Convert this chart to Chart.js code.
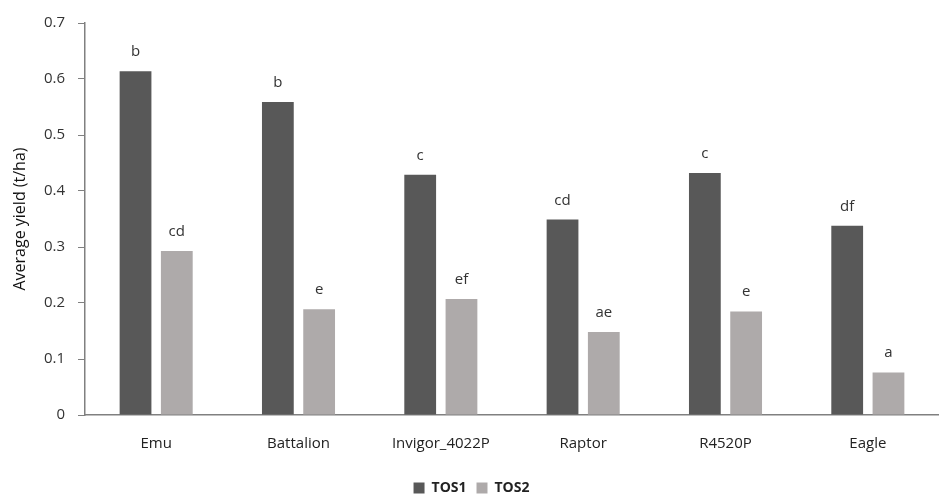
<!DOCTYPE html>
<html lang="en">
<head>
  <meta charset="UTF-8" />
  <title>Average yield by cultivar</title>
  <script src="https://cdn.jsdelivr.net/npm/chart.js"></script>
  <style>
    html, body { margin: 0; padding: 0; background: #fff; overflow: hidden; }
    .chart-container { width: 939px; height: 498px; }
  </style>
</head>
<body>
  <div class="chart-container"><canvas id="yieldChart"></canvas></div>

  <script>
    const cultivars = ['Emu', 'Battalion', 'Invigor_4022P', 'Raptor', 'R4520P', 'Eagle'];
    const tos1 = [0.614, 0.559, 0.429, 0.349, 0.432, 0.338];
    const tos2 = [0.293, 0.189, 0.207, 0.148, 0.185, 0.076];
    const tos1Letters = ['b', 'b', 'c', 'cd', 'c', 'df'];
    const tos2Letters = ['cd', 'e', 'ef', 'ae', 'e', 'a'];
    const yTicks = [0, 0.1, 0.2, 0.3, 0.4, 0.5, 0.6, 0.7];

    const fontFamily = '"Open Sans", "DejaVu Sans", sans-serif';

    // letters above each bar
    const letterPlugin = {
      id: 'letters',
      afterDatasetsDraw(chart) {
        const ctx = chart.ctx;
        const letters = [tos1Letters, tos2Letters];
        ctx.save();
        ctx.font = '15px ' + fontFamily;
        ctx.fillStyle = '#333';
        ctx.textAlign = 'center';
        ctx.textBaseline = 'alphabetic';
        chart.data.datasets.forEach((ds, i) => {
          chart.getDatasetMeta(i).data.forEach((bar, j) => {
            ctx.fillText(letters[i][j], bar.x, bar.y - 15);
          });
        });
        ctx.restore();
      }
    };

    const ctx = document.getElementById('yieldChart').getContext('2d');
    new Chart(ctx, {
      type: 'bar',
      data: {
        labels: cultivars,
        datasets: [
          { label: 'TOS1', data: tos1, backgroundColor: '#585858' },
          { label: 'TOS2', data: tos2, backgroundColor: '#aeaaaa' }
        ]
      },
      options: {
        responsive: true,
        maintainAspectRatio: false,
        animation: false,
        categoryPercentage: 0.58,
        barPercentage: 0.77,
        layout: { padding: { top: 23, right: 0, left: 4, bottom: -7 } },
        plugins: {
          tooltip: { enabled: false },
          legend: {
            position: 'bottom',
            labels: {
              boxWidth: 11,
              boxHeight: 11,
              padding: 10,
              color: '#222',
              font: { family: fontFamily, size: 14, weight: 'bold' }
            }
          }
        },
        scales: {
          x: {
            grid: { display: false },
            border: { display: true, color: '#808080', width: 1.5 },
            afterFit: axis => { axis.height += 6; },
            ticks: {
              color: '#222',
              padding: 12,
              maxRotation: 0,
              font: { family: fontFamily, size: 15 }
            }
          },
          y: {
            min: 0,
            max: 0.7,
            afterBuildTicks: axis => { axis.ticks = yTicks.map(v => ({ value: v })); },
            afterFit: axis => { axis.width = 81; },
            grid: {
              drawOnChartArea: false,
              drawTicks: true,
              tickLength: 7,
              color: '#808080'
            },
            border: { display: true, color: '#808080', width: 1.5 },
            ticks: {
              color: '#333',
              padding: 13,
              font: { family: fontFamily, size: 15 },
              callback: v => String(Math.round(v * 10) / 10)
            },
            title: {
              display: true,
              text: 'Average yield (t/ha)',
              color: '#111',
              padding: { top: 7, bottom: 0 },
              font: { family: fontFamily, size: 16 }
            }
          }
        }
      },
      plugins: [letterPlugin]
    });
  </script>
</body>
</html>
